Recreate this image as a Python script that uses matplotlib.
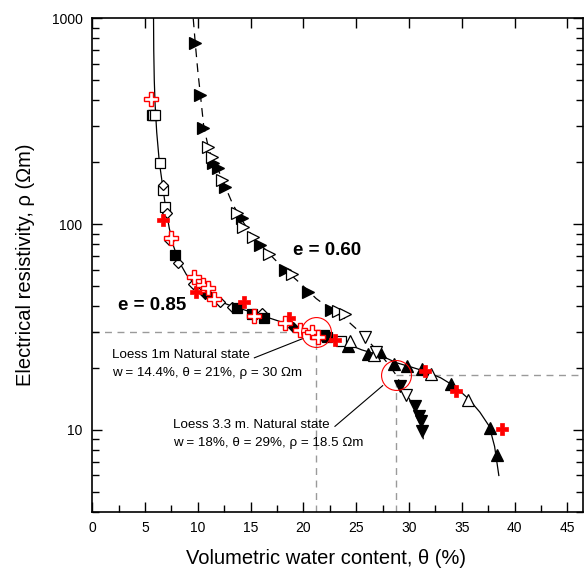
import matplotlib
matplotlib.use("Agg")
import matplotlib.pyplot as plt
from matplotlib.ticker import MultipleLocator, LogLocator, NullFormatter

plt.rcParams['font.family'] = ['Liberation Sans', 'DejaVu Sans']

# ---------------- data (theta in %, rho in Ohm m) ----------------
# e = 0.85 curve (solid)
curve085_theta = [5.80, 5.82, 5.87, 5.95, 6.1, 6.35, 6.65, 6.95, 7.3, 7.7, 8.2, 8.9, 9.7,
                  10.6, 11.6, 12.8, 14.2, 15.8, 17.5, 19.2, 20.8, 22.3, 23.8, 25.5, 27.3,
                  28.8, 30.2, 31.6, 33.0, 34.3, 35.6, 36.7, 37.6, 38.1, 38.5]
curve085_rho = [1000, 700, 500, 380, 280, 200, 155, 120, 95, 78, 66, 57, 51,
                46.5, 43.3, 40.7, 38.6, 36.3, 34.0, 31.8, 29.9, 28.2, 26.6, 24.5, 23.0,
                21.2, 20.2, 19.2, 17.9, 16.3, 14.2, 12.2, 10.4, 8.3, 6.0]
# e = 0.60 curve (dashed)
curve060_theta = [9.56, 9.75, 10.0, 10.25, 10.55, 11.0, 11.5, 12.0, 12.6, 13.3, 14.1, 15.0,
                  16.0, 17.2, 18.5, 19.8, 21.2, 22.6, 24.0, 25.0, 26.0, 27.0, 28.0, 28.8,
                  29.4, 30.0, 30.6, 31.0, 31.2, 31.35]
curve060_rho = [1000, 760, 550, 420, 300, 235, 198, 180, 152, 125, 106, 90,
                79, 68, 58.5, 51, 43.5, 38.5, 34.5, 31.0, 27.5, 24.2, 21.0, 18.4,
                16.0, 14.2, 12.8, 11.5, 10.2, 9.0]

# e = 0.85 samples
open_sq_theta = [5.65, 5.78, 5.9, 6.41, 6.73, 6.88, 23.6]
open_sq_rho = [339, 339, 339, 198, 146, 121, 27.0]
open_dia_theta = [6.73, 7.04, 7.26, 8.15, 9.57, 12.09, 13.2, 16.04]
open_dia_rho = [155, 113, 83.5, 64.4, 51.4, 41.9, 39.6, 37.2]
fill_sq_theta = [7.83, 13.67, 15.09, 16.26, 21.9, 22.2]
fill_sq_rho = [70.6, 39.3, 36.7, 35.0, 28.8, 28.4]
fill_dia_theta = [10.67, 11.1, 19.0, 21.6]
fill_dia_rho = [45.9, 44.8, 31.6, 28.6]
red_fill_theta = [6.73, 9.82, 14.37, 18.6, 23.0, 31.5, 34.4, 38.8]
red_fill_rho = [104.5, 46.8, 41.9, 35.0, 27.2, 19.3, 15.4, 10.1]
red_open_theta = [5.56, 7.42, 9.63, 10.5, 11.0, 11.52, 15.3, 18.25, 19.67, 20.8, 21.4]
red_open_rho = [406, 86, 55.4, 50.4, 49.2, 43.4, 35.8, 33.0, 30.5, 29.9, 28.3]
fill_up_theta = [24.2, 26.1, 27.2, 28.6, 29.8, 31.2, 34.0, 37.66, 38.3]
fill_up_rho = [25.5, 23.5, 23.9, 21.0, 20.4, 19.7, 16.7, 10.2, 7.58]
open_up_theta = [24.4, 26.7, 32.1, 35.6]
open_up_rho = [27.0, 23.0, 18.7, 14.0]

# e = 0.60 samples
fill_rt_theta = [9.73, 10.2, 10.5, 11.46, 11.93, 12.57, 14.15, 15.88, 18.25, 20.45, 22.6]
fill_rt_rho = [759, 425, 292, 198, 187, 152, 107, 79, 59.7, 46.8, 38.1]
open_rt_theta = [10.99, 11.3, 12.25, 13.67, 14.24, 15.25, 16.75, 18.88, 23.3, 23.9]
open_rt_rho = [238, 213, 164, 113, 97, 86.7, 72, 57.5, 37.8, 36.7]
fill_dn_theta = [29.14, 30.56, 30.9, 31.1, 31.2]
fill_dn_rho = [16.4, 13.0, 11.7, 11.1, 9.9]
open_dn_theta = [25.8, 26.9, 29.7]
open_dn_rho = [28.3, 24.0, 14.7]

# natural-state reference points
ref_theta = [21.2, 28.8]
ref_rho = [30.0, 18.5]

x_ticks = [0, 5, 10, 15, 20, 25, 30, 35, 40, 45]
y_ticks = [10, 100, 1000]
y_ticklabels = ['10', '100', '1000']

# ---------------- figure ----------------
fig = plt.figure(figsize=(5.86, 5.69), dpi=100)
ax = fig.add_axes([0.1575, 0.1007, 0.8379, 0.8668])
ax.set_yscale('log')
ax.set_xlim(0, 46.5)
ax.set_ylim(4, 1000)

gray = '#9a9a9a'
# reference dashed lines
ax.plot([0, ref_theta[0]], [ref_rho[0], ref_rho[0]], color=gray, lw=1.0, ls=(0, (5, 4)), zorder=1)
ax.plot([ref_theta[0], ref_theta[0]], [4, ref_rho[0]], color=gray, lw=1.0, ls=(0, (5, 4)), zorder=1)
ax.plot([ref_theta[1], 46.5], [ref_rho[1], ref_rho[1]], color=gray, lw=1.0, ls=(0, (5, 4)), zorder=1)
ax.plot([ref_theta[1], ref_theta[1]], [4, ref_rho[1]], color=gray, lw=1.0, ls=(0, (5, 4)), zorder=1)

# curves
ax.plot(curve085_theta, curve085_rho, color='black', lw=0.9, zorder=2)
ax.plot(curve060_theta, curve060_rho, color='black', lw=0.9, ls=(0, (7, 5)), zorder=2)

mew = 0.9
def mk(x, y, m, ms, fc, ec='black', lw=mew, z=3):
    ax.plot(x, y, ls='none', marker=m, ms=ms, mfc=fc, mec=ec, mew=lw, zorder=z)

mk(open_sq_theta, open_sq_rho, 's', 6.5, 'white')
mk(open_dia_theta, open_dia_rho, 'D', 5.5, 'white')
mk(fill_sq_theta, fill_sq_rho, 's', 6.5, 'black')
mk(fill_dia_theta, fill_dia_rho, 'D', 5.5, 'black')
mk(fill_up_theta, fill_up_rho, '^', 9, 'black')
mk(open_up_theta, open_up_rho, '^', 9, 'white')
mk(fill_rt_theta, fill_rt_rho, '>', 9, 'black')
mk(open_rt_theta, open_rt_rho, '>', 9, 'white')
mk(fill_dn_theta, fill_dn_rho, 'v', 8, 'black')
mk(open_dn_theta, open_dn_rho, 'v', 8, 'white')
mk(red_fill_theta, red_fill_rho, 'P', 9, 'red', ec='red', lw=0.5, z=4)
mk(red_open_theta, red_open_rho, 'P', 9.5, 'white', ec='red', lw=1.0, z=4)

# red circles around natural states
ax.plot(ref_theta, ref_rho, ls='none', marker='o', ms=21.5, mfc='none', mec='red', mew=0.8, zorder=5)

# annotations
ax.text(1.84, 23.0, 'Loess 1m Natural state', fontsize=9.6, ha='left', va='center')
ax.text(1.84, 18.8, 'w = 14.4%, \u03b8 = 21%, \u03c1 = 30 \u03a9m', fontsize=9.6, ha='left', va='center')
ax.plot([15.35, 19.95], [22.4, 27.8], color='black', lw=0.8, zorder=2)
ax.text(7.61, 10.5, 'Loess 3.3 m. Natural state', fontsize=9.6, ha='left', va='center')
ax.text(7.61, 8.6, 'w = 18%, \u03b8 = 29%, \u03c1 = 18.5 \u03a9m', fontsize=9.6, ha='left', va='center')
ax.plot([22.98, 27.5], [10.4, 16.4], color='black', lw=0.8, zorder=2)

ax.text(2.45, 40.3, 'e = 0.85', fontsize=13.5, fontweight='bold', ha='left', va='center')
ax.text(19.0, 74.7, 'e = 0.60', fontsize=13.5, fontweight='bold', ha='left', va='center')

# axes styling
ax.set_xticks(x_ticks)
ax.xaxis.set_minor_locator(MultipleLocator(2.5))
ax.set_yticks(y_ticks, labels=y_ticklabels)
ax.yaxis.set_minor_locator(LogLocator(base=10, subs=[2, 3, 4, 5, 6, 7, 8, 9]))
ax.yaxis.set_minor_formatter(NullFormatter())
ax.tick_params(which='both', direction='in', top=True, right=True, labelsize=10, width=1.0)
ax.tick_params(which='major', length=7, pad=7)
ax.tick_params(which='minor', length=5, top=False)
for s in ax.spines.values():
    s.set_linewidth(1.2)

ax.set_xlabel('Volumetric water content, \u03b8 (%)', fontsize=14.5)
ax.set_ylabel('Electrical resistivity, \u03c1 (\u03a9m)', fontsize=14.5)
ax.xaxis.label.set_va('baseline')
ax.xaxis.set_label_coords(0.476, -0.106)
ax.yaxis.set_label_coords(-0.117, 0.5)

fig.savefig('out.png', dpi=100)
